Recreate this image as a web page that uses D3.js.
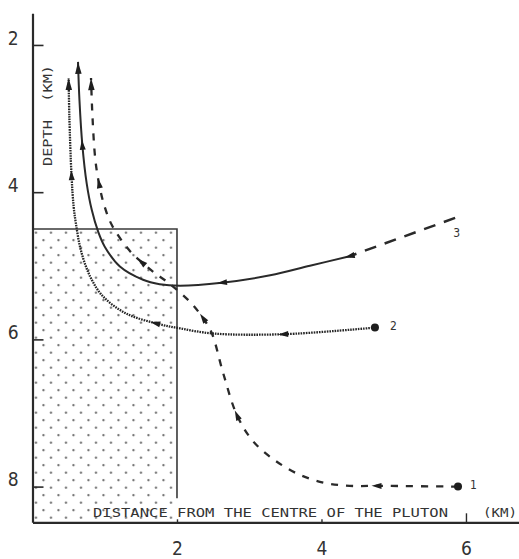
<!DOCTYPE html>
<html><head><meta charset="utf-8">
<script src="https://cdn.jsdelivr.net/npm/d3@7/dist/d3.min.js"></script>
<style>body{margin:0;background:#fff}svg{display:block}</style>
</head><body><svg id="c" width="519" height="559"></svg>
<script>
// ---- data ----
const xTicks = [2, 4, 6];
const yTicks = [2, 4, 6, 8];
const xDomain = [0, 6.73];
const yDomain = [1.57, 8.485];
const plutonRadius = 2;
const plutonTop = 4.5;

// path 1 (dashed) : distance (km), depth (km)
const path1X = [5.89, 4.76, 4.39, 4.05, 3.70, 3.35, 3.05, 2.83, 2.64, 2.48, 2.36, 2.18, 1.88, 1.68, 1.51, 1.34, 1.10, 0.99, 0.92, 0.87, 0.83, 0.81];
const path1D = [8.00, 7.99, 7.99, 7.95, 7.84, 7.64, 7.38, 7.03, 6.46, 5.91, 5.71, 5.49, 5.23, 5.09, 4.95, 4.79, 4.45, 4.17, 3.88, 3.56, 2.97, 2.45];
const arrows1 = [[4.76, 7.99], [2.83, 7.03], [2.36, 5.71], [1.51, 4.95], [0.92, 3.88]];

// path 2 (dotted)
const path2X = [4.74, 3.47, 2.50, 2.04, 1.70, 1.30, 0.98, 0.80, 0.67, 0.60, 0.57, 0.54, 0.51, 0.50];
const path2D = [5.84, 5.93, 5.92, 5.85, 5.78, 5.65, 5.42, 5.15, 4.79, 4.42, 4.20, 3.77, 2.97, 2.45];
const arrows2 = [[3.47, 5.93], [1.70, 5.78], [0.54, 3.77]];

// path 3 (dashed start, then solid)
const path3StartX = [5.85, 4.39];
const path3StartD = [4.35, 4.87];
const path3X = [4.39, 3.84, 3.29, 2.62, 2.04, 1.76, 1.53, 1.21, 1.00, 0.91, 0.82, 0.75, 0.69, 0.65, 0.63];
const path3D = [4.87, 5.00, 5.13, 5.23, 5.27, 5.25, 5.19, 5.01, 4.74, 4.54, 4.24, 3.88, 3.36, 2.75, 2.23];
const arrows3 = [[4.39, 4.87], [2.62, 5.23], [0.69, 3.36]];

const pathLabels = ["1", "2", "3"];
const xTitle = "DISTANCE FROM THE CENTRE OF THE PLUTON";
const xUnit = "(KM)";
const yTitle = "DEPTH  (KM)";

// ---- drawing ----
const svg = d3.select("#c");
const x = d3.scaleLinear().domain(xDomain).range([32.5, 518.7]);
const y = d3.scaleLinear().domain(yDomain).range([13.3, 522.3]);
const ink = "#2a2a2a";
const numFont = "'Liberation Sans Narrow','DejaVu Sans Condensed','Roboto Condensed',sans-serif";
const monoFont = "'DejaVu Sans Mono','Liberation Mono',monospace";

const defs = svg.append("defs");
const pat = defs.append("pattern").attr("id", "dots")
  .attr("patternUnits", "userSpaceOnUse").attr("width", 15).attr("height", 15)
  .attr("x", 32.25).attr("y", 378.95);
pat.append("circle").attr("cx", 3.75).attr("cy", 3.75).attr("r", 1.15).attr("fill", "#6a6a6a");
pat.append("circle").attr("cx", 11.25).attr("cy", 11.25).attr("r", 1.15).attr("fill", "#6a6a6a");

// pluton
svg.append("rect")
  .attr("x", x(0)).attr("y", y(plutonTop))
  .attr("width", x(plutonRadius) - x(0)).attr("height", y(yDomain[1]) - y(plutonTop))
  .attr("fill", "url(#dots)");
svg.append("path")
  .attr("d", `M${x(0)},${y(plutonTop)}H${x(plutonRadius)}V${y(yDomain[1]) - 24}`)
  .attr("fill", "none").attr("stroke", "#3a3a3a").attr("stroke-width", 1.6);

// axes
const yAxis = d3.axisLeft(y).tickValues(yTicks).tickSizeInner(-11).tickSizeOuter(0).tickPadding(14)
  .tickFormat(d3.format("d"));
const gy = svg.append("g").attr("transform", `translate(${x(0)},0)`).call(yAxis);
gy.select(".domain").attr("stroke", ink).attr("stroke-width", 2.2);
gy.selectAll(".tick line").attr("stroke", ink).attr("stroke-width", 1.6);
gy.selectAll(".tick text").attr("font-family", numFont).attr("font-size", 19).attr("fill", "#333")
  .attr("y", -7).attr("font-stretch", "condensed");

const xAxis = d3.axisBottom(x).tickValues(xTicks).tickSizeInner(-6).tickSizeOuter(0).tickPadding(19)
  .tickFormat(d3.format("d"));
const gx = svg.append("g").attr("transform", `translate(0,${y(yDomain[1])})`).call(xAxis);
gx.select(".domain").attr("stroke", ink).attr("stroke-width", 2.2);
gx.selectAll(".tick line").attr("stroke", ink).attr("stroke-width", 1.4)
  .attr("y2", d => d === 6 ? -9 : -3);
gx.selectAll(".tick text").attr("font-family", numFont).attr("font-size", 19).attr("fill", "#333")
  .attr("font-stretch", "condensed");

// titles
svg.append("text").text(xTitle)
  .attr("x", 93).attr("y", 516.5)
  .attr("font-family", monoFont).attr("font-size", 13).attr("fill", "#333")
  .attr("textLength", 355).attr("lengthAdjust", "spacingAndGlyphs");
svg.append("text").text(xUnit)
  .attr("x", 483).attr("y", 516.5)
  .attr("font-family", monoFont).attr("font-size", 13).attr("fill", "#333")
  .attr("textLength", 34).attr("lengthAdjust", "spacingAndGlyphs");
svg.append("text").text(yTitle)
  .attr("transform", "translate(52,166) rotate(-90)")
  .style("white-space", "pre")
  .attr("font-family", monoFont).attr("font-size", 13).attr("fill", "#333")
  .attr("textLength", 101).attr("lengthAdjust", "spacingAndGlyphs");

// curves
const line = d3.line().x(d => x(d[0])).y(d => y(d[1])).curve(d3.curveCatmullRom.alpha(0.5));
const zip = (a, b) => a.map((v, i) => [v, b[i]]);

function drawArrow(tx, ty, ux, uy, len, wid) {
  const px = -uy, py = ux;
  const bx = tx - ux * len, by = ty - uy * len;
  svg.append("path")
    .attr("d", `M${tx},${ty}L${bx + px * wid / 2},${by + py * wid / 2}L${bx - px * wid / 2},${by - py * wid / 2}Z`)
    .attr("fill", "#1e1e1e");
}
function arrowsOn(sel, pts, len, wid) {
  const node = sel.node();
  const L = node.getTotalLength();
  const samples = d3.range(0, L, 0.5).map(l => { const p = node.getPointAtLength(l); return { l, x: p.x, y: p.y }; });
  pts.forEach(([pxv, pdv]) => {
    const tx = x(pxv), ty = y(pdv);
    const best = d3.least(samples, s => (s.x - tx) ** 2 + (s.y - ty) ** 2);
    const a = node.getPointAtLength(Math.max(0, best.l - 3));
    const b = node.getPointAtLength(Math.min(L, best.l + 3));
    const n = Math.hypot(b.x - a.x, b.y - a.y);
    const ux = (b.x - a.x) / n, uy = (b.y - a.y) / n;
    drawArrow(best.x + ux * len / 2, best.y + uy * len / 2, ux, uy, len, wid);
  });
  // end arrow
  const e = node.getPointAtLength(L), f = node.getPointAtLength(L - 5);
  const n = Math.hypot(e.x - f.x, e.y - f.y);
  drawArrow(e.x, e.y, (e.x - f.x) / n, (e.y - f.y) / n, 12, 6.5);
}

const p1 = svg.append("path").attr("d", line(zip(path1X, path1D)))
  .attr("fill", "none").attr("stroke", ink).attr("stroke-width", 2.3).attr("stroke-dasharray", "7,8");
const p2 = svg.append("path").attr("d", line(zip(path2X, path2D)))
  .attr("fill", "none").attr("stroke", "#262626").attr("stroke-width", 2.3).attr("stroke-dasharray", "1.6,1");
svg.append("path").attr("d", d3.line().x(d => x(d[0])).y(d => y(d[1]))(zip(path3StartX, path3StartD)))
  .attr("fill", "none").attr("stroke", ink).attr("stroke-width", 2.5).attr("stroke-dasharray", "12,9");
const p3 = svg.append("path").attr("d", line(zip(path3X, path3D)))
  .attr("fill", "none").attr("stroke", ink).attr("stroke-width", 2);

arrowsOn(p1, arrows1, 10, 6);
arrowsOn(p2, arrows2, 10, 6);
arrowsOn(p3, arrows3, 10, 6);

// start dots
svg.append("circle").attr("cx", x(path1X[0])).attr("cy", y(path1D[0])).attr("r", 4).attr("fill", "#1e1e1e");
svg.append("circle").attr("cx", x(path2X[0])).attr("cy", y(path2D[0])).attr("r", 4).attr("fill", "#1e1e1e");

// path labels
const lab = (t, px, py) => svg.append("text").text(t).attr("x", px).attr("y", py)
  .attr("font-family", numFont).attr("font-size", 12).attr("fill", "#333").attr("font-stretch", "condensed");
lab(pathLabels[0], x(path1X[0]) + 12, y(path1D[0]) + 2);
lab(pathLabels[1], x(path2X[0]) + 15, y(path2D[0]) + 2);
lab(pathLabels[2], x(path3StartX[0]) - 2, y(path3StartD[0]) + 19);
</script>
</body></html>
